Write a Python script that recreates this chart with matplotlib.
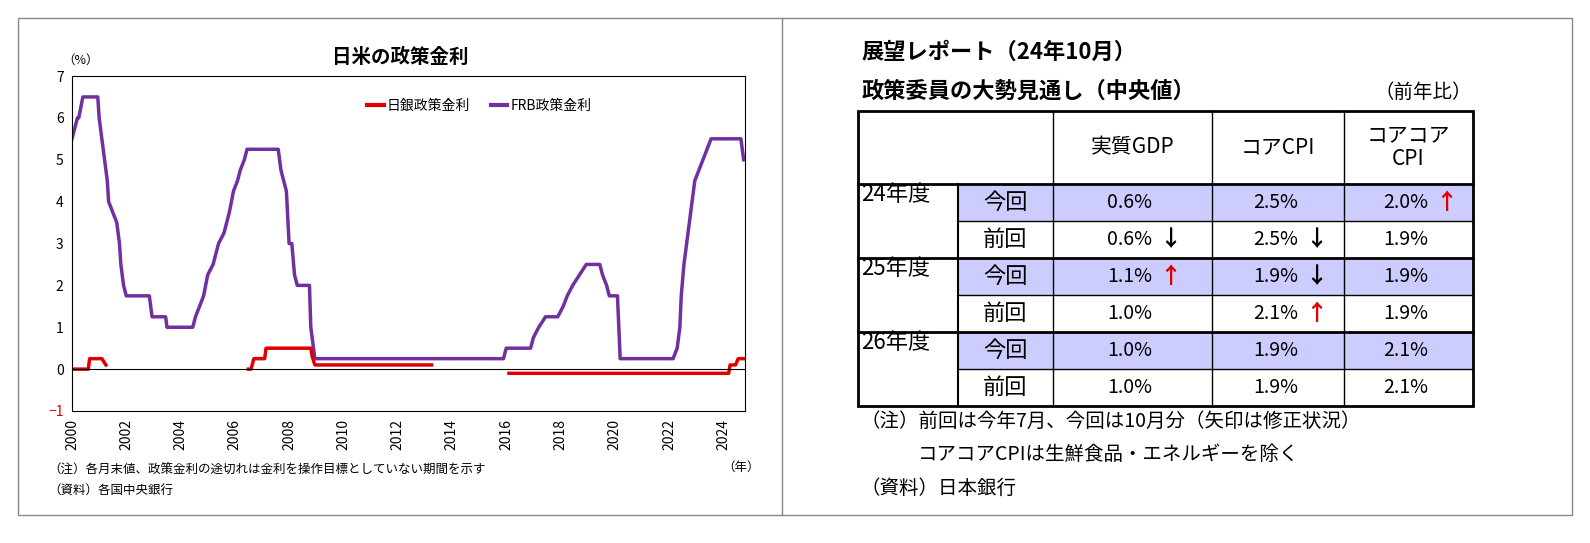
import matplotlib
matplotlib.use('Agg')
from matplotlib import pyplot as plt
from matplotlib import patches as mpatches

plt.rcParams['font.family'] = ['Noto Sans CJK JP']

# FRB policy rate (year, %)
frb_t = [2000.0, 2000.2, 2000.25, 2000.4, 2000.95, 2001.0, 2001.1, 2001.2, 2001.3, 2001.35, 2001.5, 2001.65,
         2001.75, 2001.8, 2001.9, 2002.0, 2002.85, 2002.95, 2003.45, 2003.5, 2004.45, 2004.55, 2004.7,
         2004.85, 2005.0, 2005.2, 2005.4, 2005.6, 2005.8, 2005.95, 2006.1, 2006.2, 2006.35, 2006.45,
         2007.6, 2007.7, 2007.8, 2007.9, 2008.0, 2008.1, 2008.2, 2008.3, 2008.75, 2008.8, 2008.95,
         2015.9, 2016.0, 2016.9, 2017.0, 2017.2, 2017.45, 2017.9, 2018.1, 2018.25, 2018.45, 2018.7,
         2018.95, 2019.45, 2019.55, 2019.7, 2019.8, 2020.1, 2020.2, 2022.15, 2022.3, 2022.4, 2022.45,
         2022.55, 2022.7, 2022.85, 2022.95, 2023.1, 2023.25, 2023.4, 2023.55, 2024.65, 2024.75]
frb_v = [5.5, 6.0, 6.0, 6.5, 6.5, 6.0, 5.5, 5.0, 4.5, 4.0, 3.75, 3.5,
         3.0, 2.5, 2.0, 1.75, 1.75, 1.25, 1.25, 1.0, 1.0, 1.25, 1.5,
         1.75, 2.25, 2.5, 3.0, 3.25, 3.75, 4.25, 4.5, 4.75, 5.0, 5.25,
         5.25, 4.75, 4.5, 4.25, 3.0, 3.0, 2.25, 2.0, 2.0, 1.0, 0.25,
         0.25, 0.5, 0.5, 0.75, 1.0, 1.25, 1.25, 1.5, 1.75, 2.0, 2.25,
         2.5, 2.5, 2.25, 2.0, 1.75, 1.75, 0.25, 0.25, 0.5, 1.0, 1.75,
         2.5, 3.25, 4.0, 4.5, 4.75, 5.0, 5.25, 5.5, 5.5, 5.0]

# BOJ policy rate, split where no rate target existed
boj_t1 = [2000.0, 2000.6, 2000.65, 2001.1, 2001.2, 2001.25]
boj_v1 = [0.0, 0.0, 0.25, 0.25, 0.15, 0.1]
boj_t2 = [2006.5, 2006.6, 2006.7, 2007.1, 2007.15, 2008.8, 2008.85, 2008.95, 2013.25]
boj_v2 = [0.0, 0.0, 0.25, 0.25, 0.5, 0.5, 0.3, 0.1, 0.1]
boj_t3 = [2016.1, 2024.2, 2024.25, 2024.45, 2024.55, 2024.75]
boj_v3 = [-0.1, -0.1, 0.1, 0.1, 0.25, 0.25]

# outlook table
col_labels = ['実質GDP', 'コアCPI', 'コアコア\nCPI']
years = ['24年度', '25年度', '26年度']
kinds = ['今回', '前回']
table_vals = [['0.6%', '2.5%', '2.0%'], ['0.6%', '2.5%', '1.9%'],
              ['1.1%', '1.9%', '1.9%'], ['1.0%', '2.1%', '1.9%'],
              ['1.0%', '1.9%', '2.1%'], ['1.0%', '1.9%', '2.1%']]
table_arrows = [['', '', '↑'], ['↓', '↓', ''],
                ['↑', '↓', ''], ['', '↑', ''],
                ['', '', ''], ['', '', '']]

W, H = 1590, 543
fig = plt.figure(figsize=(W / 100, H / 100), dpi=100)

# pixel overlay
ov = fig.add_axes([0, 0, 1, 1])
ov.set_xlim(0, W)
ov.set_ylim(H, 0)
ov.axis('off')
ov.add_patch(mpatches.Rectangle((18, 18), 1554, 497, fill=False, lw=1, color='#888888'))
ov.plot([782, 782], [18, 515], color='#888888', lw=1)

# chart
ax = fig.add_axes([72 / W, 1 - 411 / H, (745 - 72) / W, (411 - 76) / H])
ax.plot(frb_t, frb_v, color='#7030a0', lw=2.5)
for t, v in [(boj_t1, boj_v1), (boj_t2, boj_v2), (boj_t3, boj_v3)]:
    ax.plot(t, v, color='#e00000', lw=2.5)
ax.axhline(0, color='black', lw=0.8)
ax.set_xlim(2000, 2024.8)
ax.set_ylim(-1, 7)
ax.set_xticks(range(2000, 2025, 2))
ax.set_xticklabels([str(y) for y in range(2000, 2025, 2)], rotation=90, fontsize=10)
ax.set_yticks(range(-1, 8))
ax.set_yticklabels(['−1'] + [str(i) for i in range(0, 8)], fontsize=10)
ax.get_yticklabels()[0].set_color('#e00000')
ax.tick_params(length=0, pad=6)
ax.plot([], [], color='#e00000', lw=3, label='日銀政策金利')
ax.plot([], [], color='#7030a0', lw=3, label='FRB政策金利')
ax.legend(loc='upper left', bbox_to_anchor=(0.42, 0.97), ncol=2, frameon=False, fontsize=10,
          handlelength=1.2, handletextpad=0.2, columnspacing=1.5)
ov.text(400, 57, '日米の政策金利', fontsize=14, fontweight='bold', ha='center', va='center')
ov.text(62, 60, '（%）', fontsize=9, ha='left', va='center')
ov.text(48, 470, '（注）各月末値、政策金利の途切れは金利を操作目標としていない期間を示す', fontsize=9, va='center')
ov.text(48, 490, '（資料）各国中央銀行', fontsize=9, va='center')
ov.text(722, 467, '（年）', fontsize=9, va='center')

# table
ov.text(862, 52, '展望レポート（24年10月）', fontsize=16, fontweight='bold', va='center')
ov.text(862, 91, '政策委員の大勢見通し（中央値）', fontsize=16, fontweight='bold', va='center')
ov.text(1472, 92, '（前年比）', fontsize=14, ha='right', va='center')
cx = [858, 958, 1053, 1212, 1344, 1473]
ry = [111, 184, 221, 258, 295, 332, 369, 406]
for i in range(6):
    if i % 2 == 0:
        ov.add_patch(mpatches.Rectangle((cx[1], ry[i + 1]), cx[5] - cx[1], ry[i + 2] - ry[i + 1],
                                        color='#ccccff', lw=0))
ov.add_patch(mpatches.Rectangle((cx[0], ry[0]), cx[5] - cx[0], ry[7] - ry[0], fill=False, lw=2, color='black'))
for x in cx[2:5]:
    ov.plot([x, x], [ry[0], ry[7]], color='black', lw=1)
ov.plot([cx[1], cx[1]], [ry[1], ry[7]], color='black', lw=1.5)
for k, y in enumerate(ry[1:7]):
    if k % 2 == 0:
        ov.plot([cx[0], cx[5]], [y, y], color='black', lw=2)
    else:
        ov.plot([cx[1], cx[5]], [y, y], color='black', lw=1)
for j, lab in enumerate(col_labels):
    ov.text((cx[j + 2] + cx[j + 3]) / 2, (ry[0] + ry[1]) / 2, lab, fontsize=15, ha='center', va='center',
            linespacing=1.1)
for i in range(6):
    yc = (ry[i + 1] + ry[i + 2]) / 2
    if i % 2 == 0:
        ov.text(cx[0] + 3, yc - 8, years[i // 2], fontsize=16, va='center')
    ov.text((cx[1] + cx[2]) / 2, yc, kinds[i % 2], fontsize=16, ha='center', va='center')
    for j in range(3):
        xm = (cx[j + 2] + cx[j + 3]) / 2
        ov.text(xm + 20, yc, table_vals[i][j], fontsize=14, ha='right', va='center')
        a = table_arrows[i][j]
        if a:
            ov.text(xm + 38, yc, a, fontsize=16, ha='center', va='center',
                    color='#e00000' if a == '↑' else 'black', fontweight='bold')
ov.text(860, 421, '（注）前回は今年7月、今回は10月分（矢印は修正状況）', fontsize=14, va='center')
ov.text(918, 454, 'コアコアCPIは生鮮食品・エネルギーを除く', fontsize=14, va='center')
ov.text(860, 488, '（資料）日本銀行', fontsize=14, va='center')

fig.savefig('out.png', dpi=100)
